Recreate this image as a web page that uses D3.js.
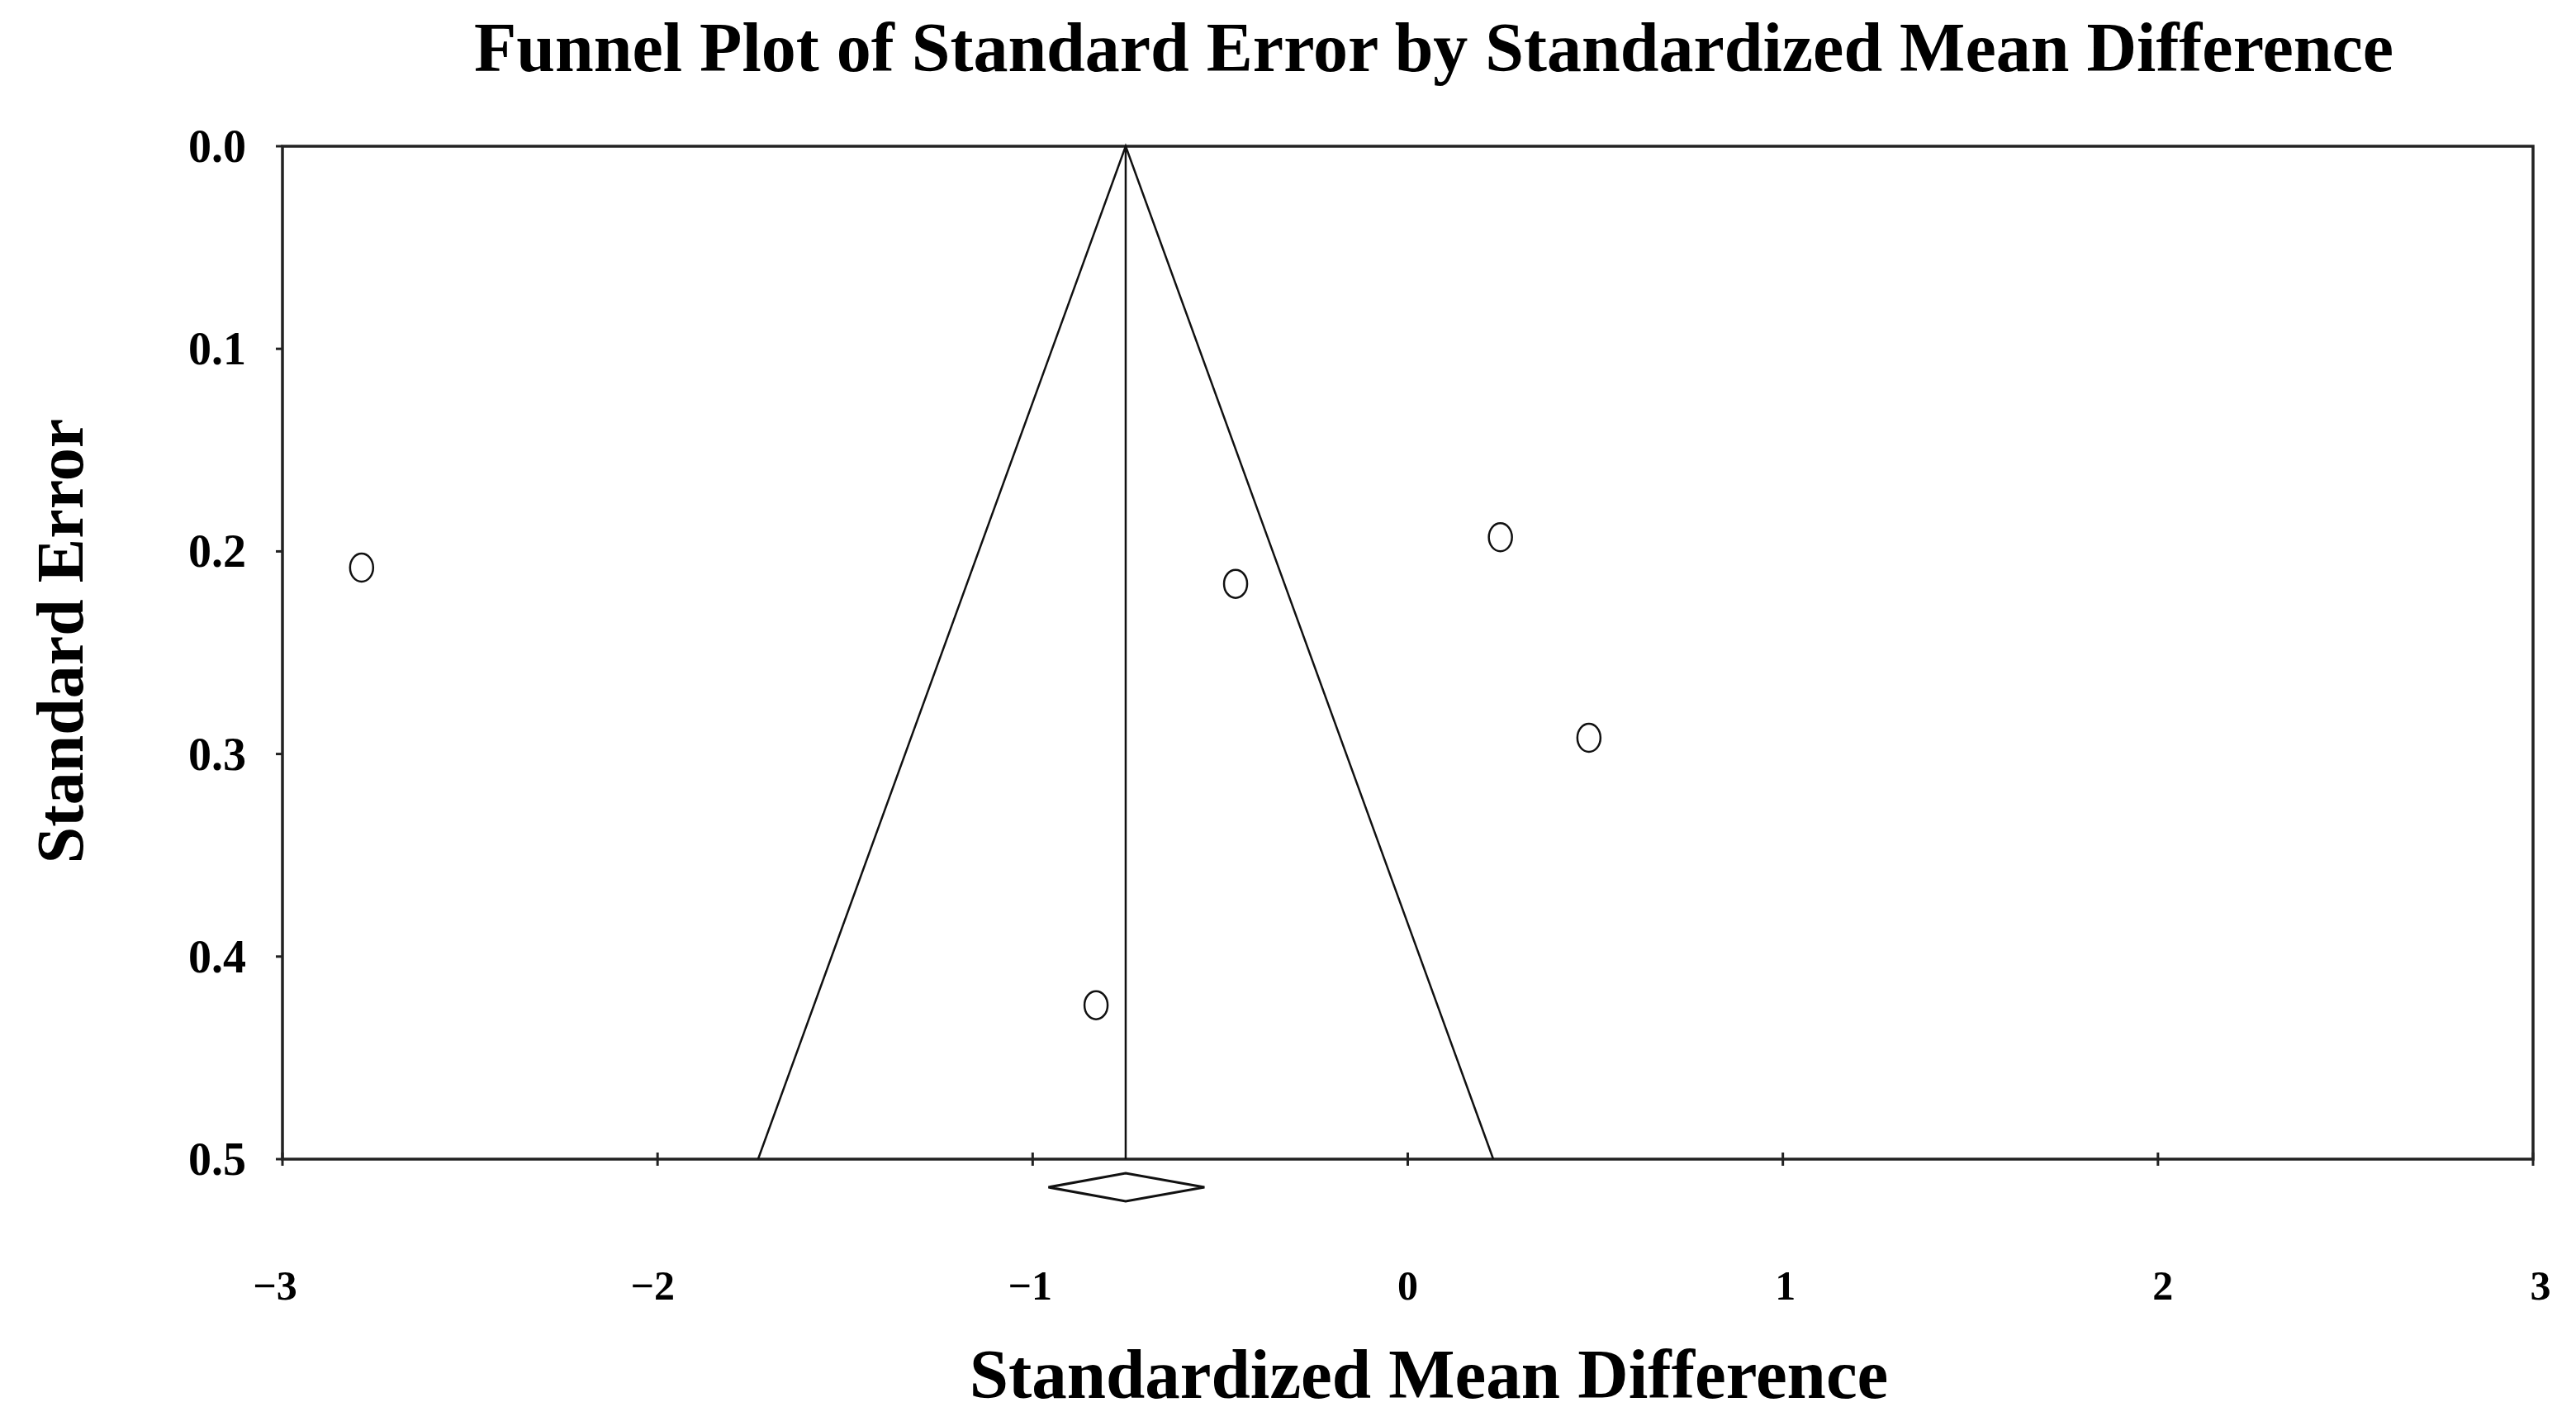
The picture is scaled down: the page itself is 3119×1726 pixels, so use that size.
<!DOCTYPE html>
<html><head><meta charset="utf-8">
<script src="https://cdn.jsdelivr.net/npm/d3@7"></script>
<style>body{margin:0;background:#fff}</style></head>
<body><svg id="c" width="3119" height="1726"></svg>
<script>
const studyES = [-2.789, -0.459, 0.247, 0.483, -0.831];
const studySE = [0.208, 0.216, 0.193, 0.292, 0.424];
const pooledES = -0.752;
const pooledLo = -0.958, pooledHi = -0.542;
const xTicks = [-3, -2, -1, 0, 1, 2, 3];
const yTicks = [0.0, 0.1, 0.2, 0.3, 0.4, 0.5];

const svg = d3.select("#c");
const font = "'Liberation Serif', 'DejaVu Serif', serif";
const L = 342, R = 3067, T = 177, B = 1403;
const x = d3.scaleLinear().domain([-3, 3]).range([L, R]);
const y = d3.scaleLinear().domain([0, 0.5]).range([T, B]);

svg.append("text").attr("x", 1736).attr("y", 86).attr("text-anchor", "middle")
  .attr("font-family", font).attr("font-weight", "bold").attr("font-size", 84)
  .text("Funnel Plot of Standard Error by Standardized Mean Difference");

svg.append("rect").attr("x", L).attr("y", T).attr("width", R - L).attr("height", B - T)
  .attr("fill", "none").attr("stroke", "#222").attr("stroke-width", 3.5);

yTicks.forEach(t => {
  svg.append("line").attr("x1", L - 8).attr("x2", L).attr("y1", y(t)).attr("y2", y(t)).attr("stroke", "#222").attr("stroke-width", 3);
  svg.append("text").attr("x", 298).attr("y", y(t) + 19).attr("text-anchor", "end")
    .attr("font-family", font).attr("font-weight", "bold").attr("font-size", 56).text(t.toFixed(1));
});
xTicks.forEach(t => {
  svg.append("line").attr("x1", x(t)).attr("x2", x(t)).attr("y1", B - 8).attr("y2", B + 8).attr("stroke", "#222").attr("stroke-width", 3);
  svg.append("text").attr("x", x(t) + t * 3).attr("y", 1573).attr("text-anchor", "middle")
    .attr("font-family", font).attr("font-weight", "bold").attr("font-size", 50)
    .text(t < 0 ? "\u2212" + Math.abs(t) : String(t));
});

const funnel = [[pooledES - 1.96 * 0.5, 0.5], [pooledES, 0], [pooledES + 1.96 * 0.5, 0.5]];
svg.append("path").attr("d", d3.line().x(d => x(d[0])).y(d => y(d[1]))(funnel))
  .attr("fill", "none").attr("stroke", "#111").attr("stroke-width", 2.5);
svg.append("line").attr("x1", x(pooledES)).attr("x2", x(pooledES)).attr("y1", y(0)).attr("y2", y(0.5))
  .attr("stroke", "#111").attr("stroke-width", 2.5);

const dy = 1437;
svg.append("path").attr("d", `M${x(pooledLo)},${dy} L${x(pooledES)},${dy - 17} L${x(pooledHi)},${dy} L${x(pooledES)},${dy + 17} Z`)
  .attr("fill", "#fff").attr("stroke", "#111").attr("stroke-width", 3);

svg.append("g").selectAll("ellipse").data(studyES).join("ellipse")
  .attr("cx", d => x(d)).attr("cy", (d, i) => y(studySE[i]))
  .attr("rx", 14).attr("ry", 17).attr("fill", "#fff").attr("stroke", "#111").attr("stroke-width", 2.5);

svg.append("text").attr("x", 1730).attr("y", 1692).attr("text-anchor", "middle")
  .attr("font-family", font).attr("font-weight", "bold").attr("font-size", 85)
  .text("Standardized Mean Difference");
svg.append("text").attr("transform", "translate(100,776) rotate(-90)").attr("text-anchor", "middle")
  .attr("font-family", font).attr("font-weight", "bold").attr("font-size", 80)
  .text("Standard Error");
</script></body></html>
